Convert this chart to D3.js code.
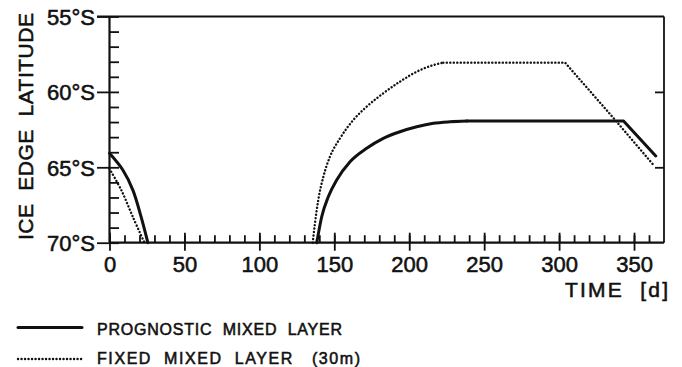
<!DOCTYPE html>
<html><head><meta charset="utf-8">
<script src="https://cdn.jsdelivr.net/npm/d3@7"></script>
<style>
body{margin:0;background:#fff}
svg{display:block}
text{font-family:"Liberation Sans",Arial,sans-serif;fill:#111;stroke:#111;stroke-width:0.55px;white-space:pre}
</style></head>
<body><svg id="c" width="682" height="367"></svg>
<script>
// ---- data (day of year, latitude in degrees south) ----
const xTicks = [0, 50, 100, 150, 200, 250, 300, 350];
const xMinorTicks = [0,10,20,30,40,50,60,70,80,90,100,110,120,130,140,150,160,170,180,190,200,210,220,230,240,250,260,270,280,290,300,310,320,330,340,350,360];
const yTicks = [55, 60, 65, 70];
const yTickLabels = ["55°S", "60°S", "65°S", "70°S"];
const yMinorTicks = [55,56,57,58,59,60,61,62,63,64,65,66,67,68,69,70];
const yRightTicks = [60, 65];

const progDaysA = [0, 8.9, 15.6, 21.1, 25.6];
const progLatA  = [64.07, 65.18, 66.51, 68.29, 70.0];
const progDaysB = [138.3, 141.6, 146.0, 151.6, 160.5, 171.6, 182.7, 193.8, 205.0, 216.1, 227.2, 238.4];
const progLatB  = [70.0, 68.28, 66.95, 65.84, 64.63, 63.74, 63.08, 62.64, 62.31, 62.08, 61.98, 61.93];
const progDaysC = [238.4, 343.0, 364.5];
const progLatC  = [61.93, 61.93, 64.25];

const fixedDaysA = [0, 7.8, 15.6, 23.3];
const fixedLatA  = [65.1, 66.5, 68.3, 70.0];
const fixedDaysB = [135.6, 137.1, 139.3, 142.7, 147.1, 153.8, 162.7, 171.6, 182.7, 193.8, 205.0, 216.1, 222.7];
const fixedLatB  = [70.0, 68.71, 67.17, 65.62, 64.30, 63.08, 61.86, 60.98, 60.09, 59.32, 58.66, 58.22, 58.06];
const fixedDaysC = [222.7, 304.0, 336.0, 363.0];
const fixedLatC  = [58.06, 58.06, 61.7, 64.85];

const legendLabels = ["PROGNOSTIC  MIXED  LAYER", "FIXED  MIXED  LAYER   (30m)"];

// ---- drawing ----
const svg = d3.select("#c");
const ink = "#111";
const x = d3.scaleLinear().domain([0, 370]).range([109.5, 664]);
const y = d3.scaleLinear().domain([55, 70]).range([16.5, 242.7]);
const x0 = x(0), x1 = x(370), yTop = y(55), yBot = y(70);

function styleAxis(g){
  g.select(".domain").remove();
  g.selectAll(".tick line").attr("stroke", ink).attr("stroke-width", 1.8);
}

// frame
svg.append("line").attr("x1", 97).attr("x2", x1).attr("y1", yTop).attr("y2", yTop).attr("stroke", ink).attr("stroke-width", 1.8);
svg.append("line").attr("x1", x1).attr("x2", x1).attr("y1", yTop).attr("y2", yBot).attr("stroke", ink).attr("stroke-width", 1.8);
svg.append("line").attr("x1", x0).attr("x2", x0).attr("y1", yTop).attr("y2", yBot).attr("stroke", ink).attr("stroke-width", 2.2);
svg.append("line").attr("x1", x0).attr("x2", x1).attr("y1", yBot).attr("y2", yBot).attr("stroke", ink).attr("stroke-width", 2.2);

// x axis: minor ticks upward
svg.append("g").attr("transform", `translate(0,${yBot})`)
  .call(d3.axisTop(x).tickValues(xMinorTicks).tickSize(7.5).tickFormat(""))
  .call(styleAxis);
// major ticks upward
svg.append("g").attr("transform", `translate(0,${yBot})`)
  .call(d3.axisTop(x).tickValues(xTicks).tickSize(10).tickFormat(""))
  .call(styleAxis);
// major ticks downward + labels
const xg = svg.append("g").attr("transform", `translate(0,${yBot})`)
  .call(d3.axisBottom(x).tickValues(xTicks).tickSize(8).tickPadding(6).tickFormat(d => d))
  .call(styleAxis);
xg.selectAll("text").attr("font-size", 22).attr("fill", ink);

// y axis
const yg = svg.append("g").attr("transform", `translate(${x0},0)`)
  .call(d3.axisLeft(y).tickValues(yTicks).tickSize(12.5).tickPadding(2).tickFormat((d, i) => yTickLabels[i]))
  .call(styleAxis);
yg.selectAll("text").attr("font-size", 22).attr("dy", "0.36em").attr("fill", ink);
svg.append("g").attr("transform", `translate(${x0},0)`)
  .call(d3.axisRight(y).tickValues(yMinorTicks).tickSize(9.5).tickFormat(""))
  .call(styleAxis);
// right axis ticks inward
svg.append("g").attr("transform", `translate(${x1},0)`)
  .call(d3.axisLeft(y).tickValues(yRightTicks).tickSize(9).tickFormat(""))
  .call(styleAxis);

// axis titles
svg.append("text")
  .attr("transform", `translate(33,${(13 + 240) / 2}) rotate(-90)`)
  .attr("text-anchor", "middle").attr("font-size", 21)
  .attr("textLength", 227).attr("lengthAdjust", "spacing")
  .text("ICE  EDGE  LATITUDE");
svg.append("text")
  .attr("x", 565).attr("y", 296.5).attr("font-size", 21)
  .attr("textLength", 103).attr("lengthAdjust", "spacing")
  .text("TIME  [d]");

// series
function pts(days, lats){ return days.map((d, i) => [d, lats[i]]); }
const lineSmooth = d3.line().x(d => x(d[0])).y(d => y(d[1])).curve(d3.curveMonotoneX);
const lineSpline = d3.line().x(d => x(d[0])).y(d => y(d[1])).curve(d3.curveCatmullRom.alpha(0.5));
const lineStraight = d3.line().x(d => x(d[0])).y(d => y(d[1])).curve(d3.curveLinear);

const solidStyle = p => p.attr("fill", "none").attr("stroke", ink).attr("stroke-width", 3).attr("stroke-linejoin", "round").attr("stroke-linecap", "round");
const dotStyle = p => p.attr("fill", "none").attr("stroke", ink).attr("stroke-width", 2.4).attr("stroke-linecap", "round").attr("stroke-dasharray", "0.1 3.4");

svg.append("path").attr("d", lineSpline(pts(fixedDaysA, fixedLatA))).call(dotStyle);
svg.append("path").attr("d", lineSmooth(pts(fixedDaysB, fixedLatB))).call(dotStyle);
svg.append("path").attr("d", lineStraight(pts(fixedDaysC, fixedLatC))).call(dotStyle);

svg.append("path").attr("d", lineSpline(pts(progDaysA, progLatA))).call(solidStyle);
svg.append("path").attr("d", lineSmooth(pts(progDaysB, progLatB))).call(solidStyle);
svg.append("path").attr("d", lineStraight(pts(progDaysC, progLatC))).call(solidStyle);

// legend
svg.append("line").attr("x1", 18).attr("x2", 82).attr("y1", 327.5).attr("y2", 327.5).call(solidStyle);
svg.append("line").attr("x1", 18).attr("x2", 82).attr("y1", 359).attr("y2", 359).call(dotStyle);
svg.append("text").attr("x", 97).attr("y", 334.5).attr("font-size", 16)
  .attr("textLength", 245).attr("lengthAdjust", "spacing").text(legendLabels[0]);
svg.append("text").attr("x", 97).attr("y", 364).attr("font-size", 16)
  .attr("textLength", 263).attr("lengthAdjust", "spacing").text(legendLabels[1]);
</script></body></html>
